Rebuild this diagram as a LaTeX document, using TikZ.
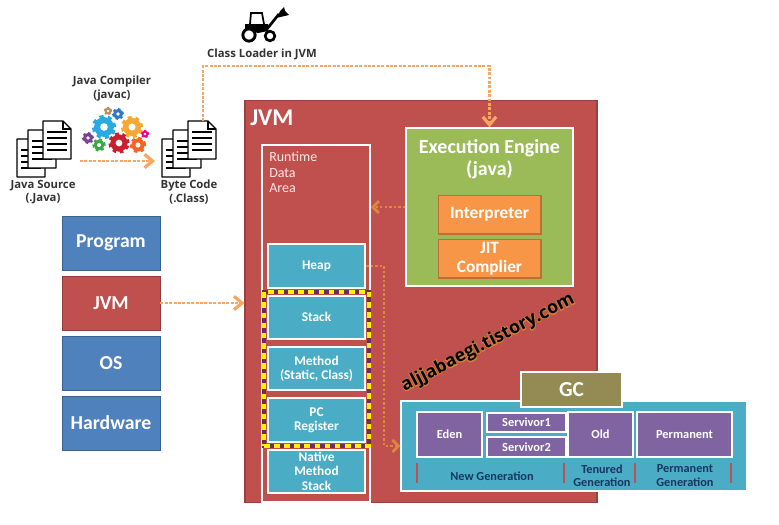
\documentclass[tikz,border=0pt]{standalone}
\usepackage{fontspec}
\setmainfont{Carlito}
\newfontfamily\labelfont{Open Sans}
\newfontfamily\glowfont[FakeBold=9]{Open Sans Bold}
\usetikzlibrary{positioning, arrows.meta, fit, shadows}
\definecolor{jvm_red}{HTML}{C0504D}
\definecolor{tier_blue}{HTML}{4F81BD}
\definecolor{engine_green}{HTML}{9BBB59}
\definecolor{flow_orange}{HTML}{F79646}
\definecolor{area_teal}{HTML}{4BACC6}
\definecolor{gen_purple}{HTML}{8064A2}
\definecolor{gc_olive}{HTML}{948A54}
\definecolor{navy_text}{HTML}{17375E}
\definecolor{gear_cyan}{HTML}{29ABE2}
\definecolor{gear_yellow}{HTML}{F7A833}
\definecolor{gear_red}{HTML}{C8202F}
\definecolor{gear_orange}{HTML}{F26522}
\definecolor{gear_green}{HTML}{39A845}
\definecolor{gear_purple}{HTML}{7B3F98}
\definecolor{gear_pink}{HTML}{EC008C}
\definecolor{gear_brown}{HTML}{B58A5A}
\definecolor{gear_blue}{HTML}{2E7BC4}
\tikzset{
    doc_page/.pic={
        \draw[fill=white, line width=1pt, line join=round] (0,0) -- (20,0) -- (28,8) -- (28,38) -- (0,38) -- cycle ;
        \draw[line width=0.8pt] (20,0) -- (20,8) -- (28,8) ;
        \foreach \y in {11,17,23,29} {
            \draw[line width=0.8pt] (4,\y) -- (24,\y) ;
        }
    },
    doc_stack/.pic={
        \pic at (-26,18) {doc_page} ;
        \pic at (-15,9) {doc_page} ;
        \pic at (0,0) {doc_page} ;
    },
}
\newcommand{\gearicon}[5]{%
    \pgfmathsetmacro{\teeth}{3.1416*#3*0.75/#4}
    \draw[#5, line width=#3*0.2pt, dash pattern=on \teeth pt off \teeth pt] (#1,#2) circle (#3*0.66pt) ;
    \fill[#5] (#1,#2) circle (#3*0.62pt) ;
    \fill[white] (#1,#2) circle (#3*0.24pt) ;
}
\begin{document}
\begin{tikzpicture}
    [
        x=0.75pt, y=-0.75pt,
        node distance=45pt and 45pt, on grid,
        tier_node/.style={rectangle, fill=tier_blue, draw=tier_blue!75!black, line width=0.7pt, minimum width=73.5pt, minimum height=40.5pt, text=white, font=\fontsize{14.8}{16}\selectfont\bfseries},
        region_node/.style={rectangle, fill=area_teal, draw=white, line width=1.5pt, minimum width=73pt, minimum height=32.5pt, inner sep=0pt, align=center, text=white, drop shadow={opacity=0.35, shadow xshift=0.7pt, shadow yshift=-0.7pt}, font=\fontsize{10}{10.6}\selectfont\bfseries},
        engine_part/.style={rectangle, fill=flow_orange, draw=flow_orange!75!black, line width=1pt, minimum width=77pt, minimum height=29pt, inner sep=0pt, align=center, text=white, font=\fontsize{13}{14}\selectfont\bfseries},
        gen_part/.style={rectangle, fill=gen_purple, draw=white, line width=1.5pt, minimum height=33.5pt, inner sep=0pt, text=white, drop shadow={opacity=0.3, shadow xshift=0.6pt, shadow yshift=-0.6pt}, font=\fontsize{9.3}{11}\selectfont\bfseries},
        icon_label/.style={align=center, inner sep=0pt, text=black!80, font=\labelfont\fontsize{8.5}{10.2}\selectfont\bfseries},
        gen_label/.style={align=center, inner sep=0pt, text=navy_text, font=\fontsize{9.2}{10}\selectfont\bfseries},
        far_flow/.style={-{Straight Barb[length=6pt, width=10pt, line width=2.4pt]}, color=flow_orange!85!white, line width=2.2pt, dash pattern=on 2.2pt off 1.1pt},
        near_flow/.style={-{Straight Barb[length=4.5pt, width=9pt, line width=2pt]}, color=flow_orange!90!black, line width=1.8pt, dash pattern=on 1.8pt off 1.6pt},
        frame_back/.style={rectangle, draw=jvm_red!70!black!80!blue, line width=3pt, inner sep=2.2pt},
        frame_front/.style={rectangle, draw=yellow, line width=3pt, inner sep=2.2pt, dash pattern=on 4.2pt off 3.4pt},
        tick_mark/.style={draw=jvm_red, line width=2.2pt},
    ]
        \useasboundingbox (0,0) rectangle (779,525) ;

        % machine layers
        \node[tier_node] (program) at (111,243) {Program} ;
        \node[tier_node, fill=jvm_red, draw=jvm_red!75!black] (jvm_tier) [below = of program] {JVM} ;
        \node[tier_node] (os) [below = of jvm_tier] {OS} ;
        \node[tier_node] (hardware) [below = of os] {Hardware} ;

        % JVM box
        \node[rectangle, fill=jvm_red, draw=jvm_red!80!black, line width=0.8pt, minimum width=264pt, minimum height=302pt] (jvm_box) at (421,301.5) {} ;
        \node[anchor=west, inner sep=0pt, text=white, font=\fontsize{18}{20}\selectfont\bfseries] (jvm_title) at (250,118) {JVM} ;
        \node[rectangle, draw=white, line width=1.5pt, minimum width=81pt, minimum height=267.5pt] (runtime) at (316,323.5) {} ;
        \node[anchor=north west, align=left, inner sep=0pt, text=red!10!white, font=\fontsize{10.5}{11.6}\selectfont] (runtime_label) at (269,152) {Runtime\\Data\\Area} ;

        % memory regions
        \node[region_node] (heap) at (316.5,266) {Heap} ;
        \node[region_node] (stack) [below = 38.5pt of heap] {Stack} ;
        \node[region_node] (method) [below = 38.5pt of stack] {Method\\(Static, Class)} ;
        \node[region_node] (pc_reg) [below = 38.5pt of method] {PC\\Register} ;
        \node[region_node] (native) [below = 38.5pt of pc_reg] {Native\\Method\\Stack} ;
        \node[frame_back, fit=(stack)(pc_reg)] (yellow_under) {} ;
        \node[frame_front, fit=(stack)(pc_reg)] (yellow_dash) {} ;

        % execution engine
        \node[rectangle, fill=engine_green, draw=white, line width=1.6pt, minimum width=125pt, minimum height=118pt] (engine) at (489.5,207) {} ;
        \node[align=center, inner sep=0pt, text=white, font=\fontsize{15}{16}\selectfont\bfseries] (engine_label) at (489.5,159) {Execution Engine\\(java)} ;
        \node[engine_part] (interpreter) at (489.5,214.5) {\raisebox{-1.5pt}{Interpreter}} ;
        \node[engine_part] (jit) [below = 33pt of interpreter] {JIT\\Complier} ;

        % GC
        \node[rectangle, fill=area_teal, draw=white, line width=1.5pt, minimum width=259pt, minimum height=67.5pt, drop shadow={opacity=0.3, shadow xshift=0.8pt, shadow yshift=-0.8pt}] (gc_group) at (574,446) {} ;
        \node[rectangle, fill=gc_olive, draw=white, line width=1.5pt, minimum width=76pt, minimum height=26pt, text=white, font=\fontsize{16}{18}\selectfont\bfseries] (gc) at (571.5,389.5) {GC} ;
        \node[gen_part, minimum width=48.5pt] (eden) at (449.5,434.5) {Eden} ;
        \node[gen_part, minimum width=59pt, minimum height=14pt] (servivor1) at (526.5,422.5) {Servivor1} ;
        \node[gen_part, minimum width=59pt, minimum height=15pt] (servivor2) at (526.5,447) {Servivor2} ;
        \node[gen_part, minimum width=48.5pt] (old) at (600.5,434.5) {Old} ;
        \node[gen_part, minimum width=71pt] (permanent) at (684.5,434.5) {Permanent} ;
        \foreach \x in {417,564,635,731} {
            \draw[tick_mark] (\x,463) -- (\x,483) ;
        }
        \node[gen_label] (new_gen) at (492,476) {New Generation} ;
        \node[gen_label] (tenured_gen) at (602,475.5) {Tenured\\Generation} ;
        \node[gen_label] (perm_gen) at (685,475.5) {Permanent\\Generation} ;

        % java source, compiler, byte code
        \pic at (43,121) {doc_stack} ;
        \pic at (188,121) {doc_stack} ;
        \node[icon_label] (source_label) at (43,192) {Java Source\\(.Java)} ;
        \node[icon_label] (byte_label) at (189,192) {Byte Code\\(.Class)} ;
        \node[icon_label] (compiler_label) at (112,88.5) {Java Compiler\\(javac)} ;
        \node[icon_label] (loader_label) at (262,54) {Class Loader in JVM} ;
        \gearicon{104}{127}{12}{9}{gear_cyan}
        \gearicon{132}{127}{11}{9}{gear_yellow}
        \gearicon{119}{143}{10.5}{9}{gear_red}
        \gearicon{138}{145}{8}{7}{gear_orange}
        \gearicon{99}{145}{6.5}{7}{gear_green}
        \gearicon{88}{138}{6}{7}{gear_purple}
        \gearicon{145}{134}{4.2}{6}{gear_pink}
        \gearicon{108}{111}{4.2}{6}{gear_brown}
        \gearicon{118}{114}{6}{7}{gear_blue}

        % tractor
        \draw[line width=1.3pt] (250,24) -- (251,13) -- (262,13) -- (264,24) ;
        \fill (245,24) -- (268,24) -- (268,31) -- (258,33) -- (245,29) -- cycle ;
        \draw[line width=2pt] (267,29) -- (279,14) ;
        \fill (276,18) -- (281,10) -- (284,7) -- (285,11) -- (289,15) -- cycle ;
        \draw[fill=white, line width=2.2pt] (249,35) circle (4.6pt) ;
        \draw[fill=white, line width=2pt] (270,36) circle (3.6pt) ;

        % watermark
        \node[rotate=27.5, inner sep=0pt, text=flow_orange!85!black, font=\glowfont\fontsize{13.4}{15}\selectfont] (watermark_glow) at (488,343) {aljjabaegi.tistory.com} ;
        \node[rotate=27.5, inner sep=0pt, text=black, font=\labelfont\fontsize{13.4}{15}\selectfont\bfseries] (watermark) at (488,343) {aljjabaegi.tistory.com} ;

        % flows
        \coordinate (compile_in) at (80,161) ;
        \coordinate (compile_out) at (155,161) ;
        \coordinate (byte_top) at (203,121) ;
        \coordinate (loader_turn) at (489.5,66) ;
        \draw[far_flow] (compile_in) -- (compile_out) ;
        \draw[far_flow] (jvm_tier.east) -- (jvm_tier.east -| jvm_box.west) ;
        \draw[far_flow] (byte_top) |- (loader_turn) -- (engine.north) ;
        \draw[near_flow] (engine.west) -- (engine.west -| runtime.east) ;
        \draw[near_flow] (heap.east) -- ++(18,0) |- (gc_group.west) ;
\end{tikzpicture}
\end{document}
